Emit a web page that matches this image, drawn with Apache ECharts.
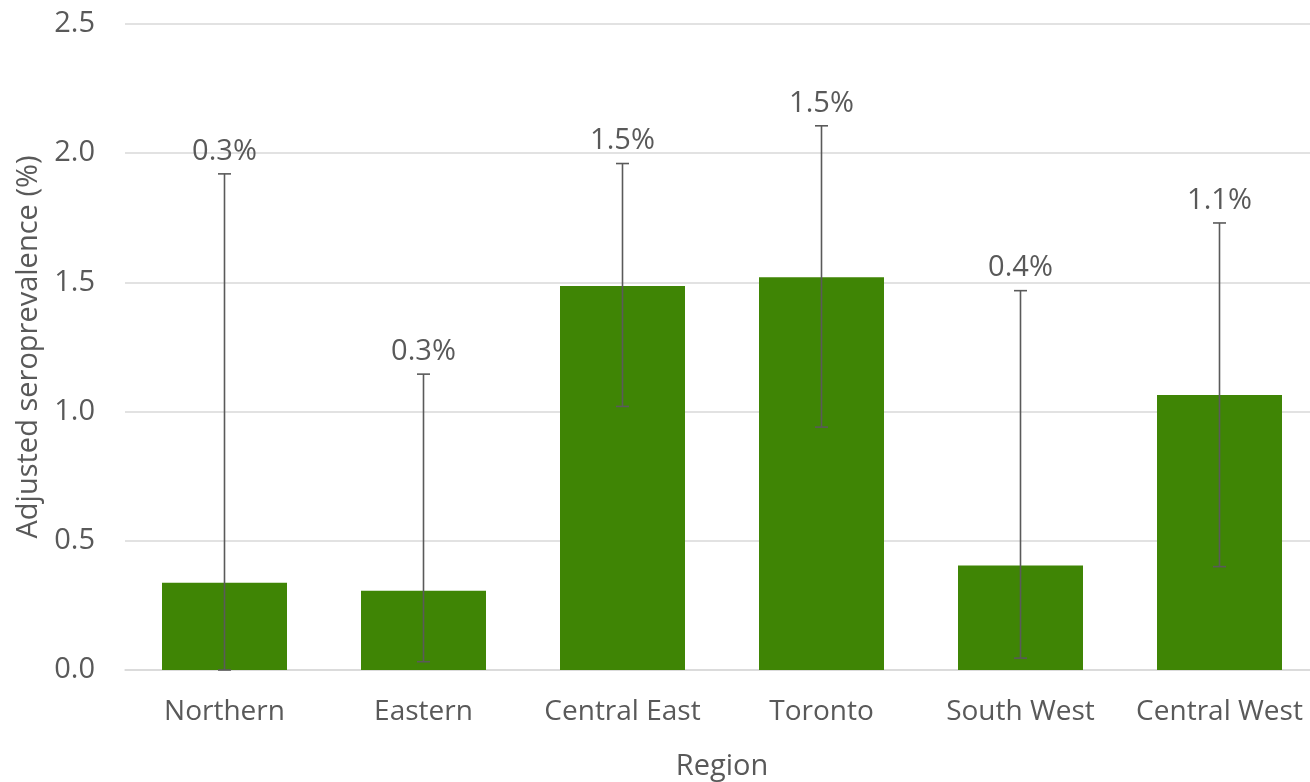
<!DOCTYPE html>
<html><head><meta charset="utf-8">
<script src="https://cdn.jsdelivr.net/npm/echarts@6/dist/echarts.min.js"></script>
<style>html,body{margin:0;padding:0;background:#fff}#c{width:1310px;height:782px}</style>
</head><body><div id="c"></div>
<script>
const regions = ['Northern','Eastern','Central East','Toronto','South West','Central West'];
const prevalence = [0.338, 0.307, 1.486, 1.52, 0.404, 1.064];
const ciLow = [0.0, 0.032, 1.02, 0.94, 0.046, 0.40];
const ciHigh = [1.92, 1.145, 1.96, 2.106, 1.468, 1.73];
const barLabels = ['0.3%','0.3%','1.5%','1.5%','0.4%','1.1%'];
const yTicks = [0, 0.5, 1.0, 1.5, 2.0, 2.5];

const FONT = 'Open Sans';
const chart = echarts.init(document.getElementById('c'));
chart.setOption({
  animation: false,
  textStyle: {fontFamily: FONT},
  grid: {left: 125, top: 24, width: 1194, height: 646, containLabel: false, outerBoundsMode: 'none'},
  xAxis: {
    type: 'category', data: regions,
    name: 'Region', nameLocation: 'middle', nameGap: 82,
    nameTextStyle: {fontSize: 29, color: '#595959', fontFamily: FONT},
    axisLine: {lineStyle: {color: '#d9d9d9', width: 1.5}},
    axisTick: {show: false},
    axisLabel: {fontSize: 28, color: '#595959', margin: 28, fontFamily: FONT,
      interval: 0, hideOverlap: false}
  },
  yAxis: {
    type: 'value', min: yTicks[0], max: yTicks[yTicks.length - 1], interval: 0.5,
    name: 'Adjusted seroprevalence (%)', nameLocation: 'middle', nameGap: 82,
    nameTextStyle: {fontSize: 29, color: '#595959', fontFamily: FONT},
    axisLine: {show: false}, axisTick: {show: false},
    axisLabel: {fontSize: 29, color: '#595959', margin: 30, fontFamily: FONT,
      formatter: v => v.toFixed(1)},
    splitLine: {lineStyle: {color: '#d9d9d9', width: 1.5}}
  },
  series: [
    {
      type: 'bar', data: prevalence, barWidth: 125,
      itemStyle: {color: '#3f8505'}
    },
    {
      type: 'custom',
      data: regions.map((r, i) => [i, ciLow[i], ciHigh[i]]),
      renderItem: function (params, api) {
        const x = api.value(0);
        const lo = api.coord([x, api.value(1)]);
        const hi = api.coord([x, api.value(2)]);
        const cap = 6.5;
        const style = {stroke: '#5a5a5a', lineWidth: 1.6};
        return {
          type: 'group',
          children: [
            {type: 'line', shape: {x1: lo[0], y1: lo[1], x2: hi[0], y2: hi[1]}, style: style},
            {type: 'line', shape: {x1: hi[0]-cap, y1: hi[1], x2: hi[0]+cap, y2: hi[1]}, style: style},
            {type: 'line', shape: {x1: lo[0]-cap, y1: lo[1], x2: lo[0]+cap, y2: lo[1]}, style: style},
            {type: 'text', x: hi[0], y: hi[1] - 8,
              style: {text: barLabels[params.dataIndex], fill: '#595959', fontSize: 29,
                fontFamily: FONT, align: 'center', verticalAlign: 'bottom'}}
          ]
        };
      },
      z: 5
    }
  ]
});
</script></body></html>
